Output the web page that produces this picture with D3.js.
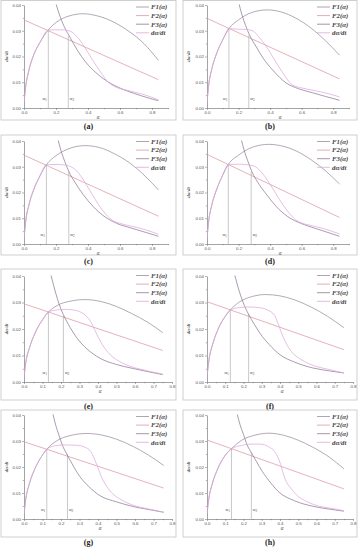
<!DOCTYPE html>
<html>
<head>
<meta charset="utf-8">
<script src="https://cdn.jsdelivr.net/npm/d3@7"></script>
<style>
  body { margin: 0; background: #fff; }
  svg { display: block; }
</style>
</head>
<body>
<div id="chart"></div>
<script>
// ---- data: [alpha, rate] pairs ----
const panelIds = ['a', 'b', 'c', 'd', 'e', 'f', 'g', 'h'];
const legendNames = ['F1(α)', 'F2(α)', 'F3(α)', 'dα/dt'];

const f1A = [[0,0.002],[0.01,0.008],[0.03,0.0145],[0.06,0.0205],[0.1,0.0255],[0.15,0.0302],[0.2,0.0332],[0.28,0.0357],[0.37,0.0366],[0.45,0.0359],[0.55,0.0337],[0.65,0.03],[0.75,0.025],[0.84,0.0185]];
const f2A = [[0,0.0342],[0.84,0.011]];
const f3A = [[0.195,0.0415],[0.22,0.0365],[0.25,0.0318],[0.29,0.0272],[0.33,0.0228],[0.39,0.0175],[0.45,0.0137],[0.5,0.0112],[0.58,0.0083],[0.65,0.0065],[0.73,0.0048],[0.84,0.0028]];
const dadtA = [[0,0.002],[0.01,0.008],[0.03,0.0145],[0.06,0.0205],[0.1,0.0255],[0.15,0.0302],[0.2,0.0304],[0.25,0.0303],[0.29,0.0298],[0.33,0.0278],[0.38,0.0235],[0.43,0.0185],[0.48,0.0138],[0.53,0.0098],[0.57,0.0082],[0.65,0.0068],[0.75,0.0052],[0.84,0.0032]];

const f1B = [[0,0.002],[0.01,0.0085],[0.03,0.015],[0.06,0.021],[0.1,0.0265],[0.14,0.0309],[0.2,0.0342],[0.28,0.037],[0.38,0.0381],[0.47,0.0373],[0.56,0.035],[0.66,0.031],[0.75,0.0262],[0.84,0.0205]];
const f2B = [[0,0.0348],[0.84,0.0113]];
const f3B = [[0.2,0.0412],[0.22,0.0365],[0.245,0.032],[0.27,0.0283],[0.31,0.024],[0.354,0.0195],[0.42,0.0145],[0.5,0.0098],[0.58,0.0075],[0.67,0.0059],[0.75,0.0045],[0.84,0.003]];
const dadtB = [[0,0.002],[0.01,0.0085],[0.03,0.015],[0.06,0.021],[0.1,0.0265],[0.14,0.0308],[0.2,0.0306],[0.25,0.0305],[0.29,0.03],[0.33,0.0275],[0.375,0.024],[0.43,0.0185],[0.48,0.0137],[0.54,0.009],[0.6,0.0078],[0.68,0.0068],[0.76,0.0057],[0.84,0.0043]];

const f1C = [[0,0.002],[0.01,0.0085],[0.03,0.015],[0.06,0.021],[0.1,0.0265],[0.14,0.0308],[0.2,0.0343],[0.28,0.037],[0.38,0.0382],[0.47,0.0375],[0.56,0.0352],[0.66,0.0315],[0.75,0.0268],[0.84,0.021]];
const f2C = [[0,0.0345],[0.84,0.0108]];
const f3C = [[0.21,0.0412],[0.23,0.0365],[0.255,0.032],[0.28,0.0282],[0.32,0.0238],[0.37,0.0192],[0.43,0.0147],[0.5,0.0108],[0.58,0.008],[0.67,0.0062],[0.75,0.0047],[0.84,0.003]];
const dadtC = [[0,0.002],[0.01,0.0085],[0.03,0.015],[0.06,0.021],[0.1,0.0265],[0.14,0.0308],[0.2,0.0309],[0.25,0.0307],[0.29,0.0301],[0.33,0.0283],[0.38,0.024],[0.44,0.0178],[0.49,0.0132],[0.55,0.0093],[0.6,0.008],[0.68,0.0068],[0.76,0.0055],[0.84,0.0038]];

const f1D = [[0,0.002],[0.01,0.0085],[0.03,0.015],[0.06,0.021],[0.1,0.0268],[0.135,0.0309],[0.2,0.0345],[0.28,0.0374],[0.39,0.0387],[0.48,0.038],[0.57,0.036],[0.66,0.0327],[0.75,0.0285],[0.84,0.0233]];
const f2D = [[0,0.0348],[0.84,0.0103]];
const f3D = [[0.215,0.0412],[0.235,0.0365],[0.26,0.032],[0.285,0.028],[0.33,0.0232],[0.38,0.019],[0.44,0.0145],[0.51,0.0107],[0.6,0.0079],[0.68,0.0062],[0.76,0.0046],[0.84,0.003]];
const dadtD = [[0,0.002],[0.01,0.0085],[0.03,0.015],[0.06,0.021],[0.1,0.0268],[0.135,0.0309],[0.2,0.031],[0.25,0.0308],[0.3,0.0302],[0.34,0.0282],[0.4,0.0232],[0.46,0.0172],[0.51,0.0128],[0.56,0.0095],[0.6,0.0082],[0.68,0.0069],[0.76,0.0056],[0.84,0.0039]];

const f1E = [[0,0.002],[0.01,0.0075],[0.03,0.013],[0.06,0.0185],[0.1,0.0235],[0.132,0.0264],[0.18,0.0289],[0.25,0.0305],[0.33,0.0311],[0.42,0.0303],[0.5,0.0285],[0.58,0.0259],[0.67,0.0225],[0.75,0.0186]];
const f2E = [[0,0.0295],[0.75,0.0119]];
const f3E = [[0.145,0.0405],[0.16,0.0365],[0.18,0.0315],[0.2,0.0275],[0.213,0.0254],[0.25,0.0205],[0.285,0.0167],[0.34,0.0125],[0.41,0.009],[0.5,0.0066],[0.59,0.0051],[0.67,0.0039],[0.75,0.0028]];
const dadtE = [[0,0.002],[0.01,0.0075],[0.03,0.013],[0.06,0.0185],[0.1,0.0235],[0.132,0.0264],[0.18,0.0272],[0.23,0.0274],[0.28,0.027],[0.32,0.0258],[0.357,0.0232],[0.39,0.0185],[0.42,0.0145],[0.466,0.0103],[0.51,0.008],[0.556,0.0064],[0.65,0.0045],[0.75,0.003]];

const f1F = [[0,0.002],[0.01,0.008],[0.03,0.014],[0.06,0.0198],[0.1,0.0248],[0.128,0.0272],[0.18,0.0303],[0.25,0.0323],[0.32,0.033],[0.4,0.0325],[0.48,0.031],[0.57,0.0283],[0.66,0.0248],[0.75,0.0205]];
const f2F = [[0,0.0303],[0.75,0.0122]];
const f3F = [[0.15,0.041],[0.165,0.037],[0.185,0.0325],[0.205,0.0288],[0.228,0.0255],[0.26,0.0217],[0.29,0.0184],[0.34,0.0142],[0.4,0.0103],[0.48,0.0075],[0.58,0.0053],[0.67,0.0042],[0.75,0.0034]];
const dadtF = [[0,0.002],[0.01,0.008],[0.03,0.014],[0.06,0.0198],[0.1,0.0248],[0.128,0.0272],[0.18,0.0281],[0.23,0.0283],[0.28,0.0281],[0.33,0.0272],[0.37,0.0252],[0.395,0.021],[0.416,0.0172],[0.44,0.0138],[0.47,0.0109],[0.52,0.0083],[0.58,0.0063],[0.67,0.0047],[0.75,0.0034]];

const f1G = [[0,0.002],[0.01,0.0078],[0.03,0.0138],[0.06,0.0195],[0.1,0.0246],[0.123,0.0268],[0.18,0.0302],[0.25,0.0321],[0.34,0.0329],[0.42,0.0323],[0.5,0.0307],[0.59,0.0279],[0.67,0.0247],[0.755,0.0206]];
const f2G = [[0,0.0297],[0.755,0.0119]];
const f3G = [[0.155,0.0408],[0.17,0.0365],[0.19,0.032],[0.208,0.0283],[0.231,0.025],[0.26,0.0212],[0.3,0.0165],[0.35,0.0125],[0.41,0.009],[0.5,0.0066],[0.59,0.0048],[0.67,0.0037],[0.755,0.0026]];
const dadtG = [[0,0.002],[0.01,0.0078],[0.03,0.0138],[0.06,0.0195],[0.1,0.0246],[0.123,0.0268],[0.17,0.0282],[0.22,0.0285],[0.28,0.0284],[0.33,0.0276],[0.36,0.026],[0.39,0.0215],[0.42,0.016],[0.45,0.0122],[0.48,0.0097],[0.53,0.0072],[0.59,0.0053],[0.67,0.0039],[0.755,0.0026]];

const f1H = [[0,0.002],[0.01,0.0078],[0.03,0.0138],[0.06,0.0195],[0.1,0.0245],[0.134,0.027],[0.19,0.0303],[0.26,0.0322],[0.34,0.033],[0.42,0.0322],[0.5,0.0303],[0.58,0.0276],[0.67,0.0238],[0.75,0.0193]];
const f2H = [[0,0.0304],[0.75,0.0116]];
const f3H = [[0.165,0.0405],[0.18,0.0365],[0.2,0.0325],[0.22,0.0285],[0.243,0.0255],[0.27,0.0222],[0.303,0.0183],[0.35,0.0138],[0.395,0.0103],[0.48,0.007],[0.58,0.0049],[0.67,0.0038],[0.75,0.003]];
const dadtH = [[0,0.002],[0.01,0.0078],[0.03,0.0138],[0.06,0.0195],[0.1,0.0245],[0.134,0.027],[0.19,0.0283],[0.24,0.0288],[0.29,0.0288],[0.34,0.0277],[0.37,0.026],[0.395,0.0227],[0.43,0.015],[0.46,0.0118],[0.49,0.0093],[0.55,0.0066],[0.616,0.0049],[0.69,0.004],[0.75,0.0032]];

// alpha1 / alpha2 positions and the height the marker lines reach
const alpha1 = [0.152, 0.139, 0.14, 0.135, 0.132, 0.128, 0.123, 0.134];
const alpha2 = [0.277, 0.265, 0.28, 0.28, 0.213, 0.228, 0.235, 0.243];
const alpha1Top = [0.0305, 0.031, 0.031, 0.031, 0.0265, 0.0275, 0.027, 0.0272];
const alpha2Top = [0.028, 0.0283, 0.0282, 0.028, 0.025, 0.0258, 0.025, 0.0256];

const f1All = [f1A, f1B, f1C, f1D, f1E, f1F, f1G, f1H];
const f2All = [f2A, f2B, f2C, f2D, f2E, f2F, f2G, f2H];
const f3All = [f3A, f3B, f3C, f3D, f3E, f3F, f3G, f3H];
const dadtAll = [dadtA, dadtB, dadtC, dadtD, dadtE, dadtF, dadtG, dadtH];

// ---- layout ----
const width = 359, height = 550;
const rowTop = [0.5, 135, 269, 410];
const rowBottom = [120, 255, 400, 537];
const plotTop = [5, 141, 276, 415];
const plotBottom = [108, 244, 382, 519];
const captionY = [129, 264, 409, 545];
const colLeft = [1, 183], colRight = [176, 357];
const plotLeft = [24, 207];
const plotRightWide = [168, 349];   // rows a-d, axis to 0.9
const plotRightNarrow = [172, 353]; // rows e-h, axis to 0.8

const colors = ['#9c8ca0', '#db98a6', '#8e7b96', '#dcaadc'];
const serif = '"Liberation Serif", "DejaVu Serif", serif';
const sans = '"Liberation Sans", Arial, sans-serif';

const svg = d3.select('#chart')
  .append('svg')
  .attr('width', width)
  .attr('height', height);

const defs = svg.append('defs');

panelIds.forEach((id, i) => {
  const row = Math.floor(i / 2), col = i % 2;
  const wide = row < 2;
  const x = d3.scaleLinear()
    .domain([0, wide ? 0.9 : 0.8])
    .range([plotLeft[col], wide ? plotRightWide[col] : plotRightNarrow[col]]);
  const y = d3.scaleLinear()
    .domain([0, 0.04])
    .range([plotBottom[row], plotTop[row]]);

  const g = svg.append('g').attr('class', `panel-${id}`);

  // outer frame
  g.append('rect')
    .attr('x', colLeft[col])
    .attr('y', rowTop[row])
    .attr('width', colRight[col] - colLeft[col])
    .attr('height', rowBottom[row] - rowTop[row])
    .attr('fill', 'none')
    .attr('stroke', '#c4c4c4')
    .attr('stroke-width', 0.8);

  // clip to plot area
  defs.append('clipPath').attr('id', `clip-${id}`)
    .append('rect')
    .attr('x', x.range()[0])
    .attr('y', y(0.04) - 0.5)
    .attr('width', x.range()[1] - x.range()[0])
    .attr('height', y(0) - y(0.04) + 1);

  // axes
  const xMajor = wide ? [0, 0.2, 0.4, 0.6, 0.8] : [0, 0.1, 0.2, 0.3, 0.4, 0.5, 0.6, 0.7, 0.8];
  const xMinor = wide ? [0.1, 0.3, 0.5, 0.7, 0.9] : [0.05, 0.15, 0.25, 0.35, 0.45, 0.55, 0.65, 0.75];
  const yMajor = [0, 0.01, 0.02, 0.03, 0.04];
  const yMinor = [0.005, 0.015, 0.025, 0.035];

  g.append('g')
    .attr('transform', `translate(0,${y(0)})`)
    .call(d3.axisBottom(x).tickValues(xMajor).tickFormat(d3.format('.1f')).tickSize(2).tickSizeOuter(0).tickPadding(0.8));
  g.append('g')
    .attr('transform', `translate(0,${y(0)})`)
    .call(d3.axisBottom(x).tickValues(xMinor).tickFormat('').tickSize(1.2).tickSizeOuter(0))
    .select('.domain').remove();

  g.append('g')
    .attr('transform', `translate(${x(0)},0)`)
    .call(d3.axisLeft(y).tickValues(yMajor).tickFormat(d3.format('.2f')).tickSize(2).tickSizeOuter(0).tickPadding(1));
  g.append('g')
    .attr('transform', `translate(${x(0)},0)`)
    .call(d3.axisLeft(y).tickValues(yMinor).tickFormat('').tickSize(1.2).tickSizeOuter(0))
    .select('.domain').remove();

  g.selectAll('.domain').attr('stroke', '#666').attr('stroke-width', 0.6);
  g.selectAll('.tick line').attr('stroke', '#666').attr('stroke-width', 0.5);
  g.selectAll('.tick text')
    .attr('font-size', 4.4)
    .attr('font-family', sans)
    .attr('fill', '#555');

  // axis titles
  g.append('text')
    .attr('x', (x.range()[0] + x.range()[1]) / 2 + 2)
    .attr('y', y(0) + 11.2)
    .attr('text-anchor', 'middle')
    .attr('font-family', serif)
    .attr('font-style', 'italic')
    .attr('font-size', 5.2)
    .attr('fill', '#444')
    .text('α');
  g.append('text')
    .attr('transform', `translate(${colLeft[col] + 7},${(y(0) + y(0.04)) / 2}) rotate(-90)`)
    .attr('text-anchor', 'middle')
    .attr('font-family', serif)
    .attr('font-style', 'italic')
    .attr('font-weight', 'bold')
    .attr('font-size', 5)
    .attr('fill', '#444')
    .text('dα/dt');

  // alpha marker lines
  const markers = [
    { a: alpha1[i], top: alpha1Top[i], name: '1', side: 'left' },
    { a: alpha2[i], top: alpha2Top[i], name: '2', side: 'right' }
  ];
  markers.forEach(m => {
    g.append('line')
      .attr('x1', x(m.a)).attr('x2', x(m.a))
      .attr('y1', y(0)).attr('y2', y(m.top))
      .attr('stroke', '#b2b2b2')
      .attr('stroke-width', 0.7);
    const t = g.append('text')
      .attr('x', m.side === 'left' ? x(m.a) - 1.5 : x(m.a) + 1.5)
      .attr('y', y(0.003))
      .attr('text-anchor', m.side === 'left' ? 'end' : 'start')
      .attr('font-family', serif)
      .attr('font-size', 5)
      .attr('fill', '#555');
    t.append('tspan').text('α');
    t.append('tspan').attr('dy', 1.2).attr('font-size', 3.5).text(m.name);
  });

  // curves
  const line = d3.line()
    .x(d => x(d[0]))
    .y(d => y(d[1]))
    .curve(d3.curveMonotoneX);
  const series = [f1All[i], f2All[i], f3All[i], dadtAll[i]];
  const curves = g.append('g').attr('clip-path', `url(#clip-${id})`);
  series.forEach((s, k) => {
    curves.append('path')
      .datum(s)
      .attr('d', line)
      .attr('fill', 'none')
      .attr('stroke', colors[k])
      .attr('stroke-width', 0.75);
  });

  // legend
  const legend = g.append('g');
  legendNames.forEach((name, k) => {
    const ly = rowTop[row] + 6.5 + k * 8.6;
    legend.append('line')
      .attr('x1', colRight[col] - 40).attr('x2', colRight[col] - 27)
      .attr('y1', ly).attr('y2', ly)
      .attr('stroke', colors[k])
      .attr('stroke-width', 0.8);
    legend.append('text')
      .attr('x', colRight[col] - 25)
      .attr('y', ly)
      .attr('dy', '0.35em')
      .attr('font-family', serif)
      .attr('font-style', 'italic')
      .attr('font-weight', 'bold')
      .attr('font-size', 6.8)
      .attr('fill', '#444')
      .text(name);
  });

  // caption
  svg.append('text')
    .attr('x', (colLeft[col] + colRight[col]) / 2)
    .attr('y', captionY[row])
    .attr('text-anchor', 'middle')
    .attr('font-family', serif)
    .attr('font-weight', 'bold')
    .attr('font-size', 8)
    .attr('fill', '#222')
    .text(`(${id})`);
});
</script>
</body>
</html>
